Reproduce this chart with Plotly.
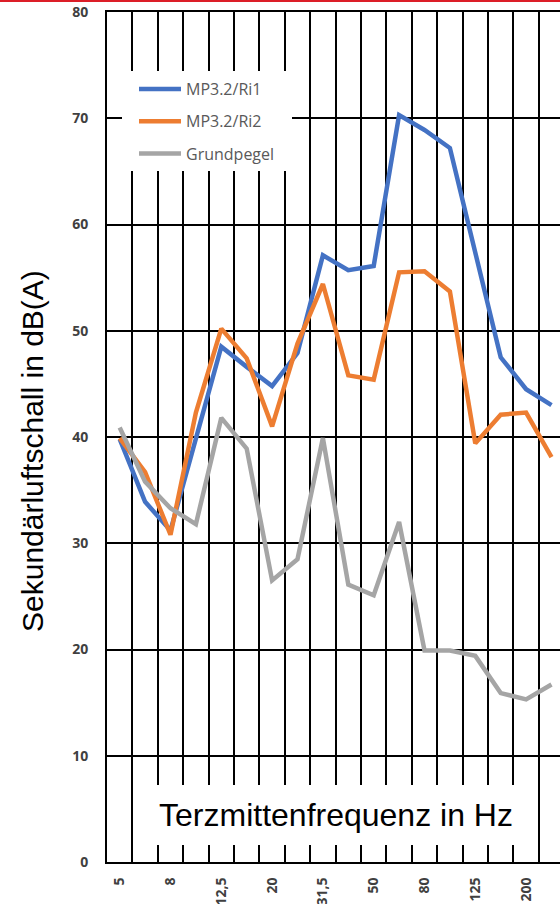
import plotly.graph_objects as go

categories = ["5", "6,3", "8", "10", "12,5", "16", "20", "25", "31,5", "40",
              "50", "63", "80", "100", "125", "160", "200", "250"]
ri1 = [39.8, 33.9, 31.2, 39.9, 48.5, 46.6, 44.8, 47.9, 57.1, 55.7,
       56.1, 70.3, 68.9, 67.2, 57.3, 47.5, 44.5, 43.0]
ri2 = [39.9, 36.7, 30.8, 42.3, 50.2, 47.4, 41.0, 48.8, 54.4, 45.8,
       45.4, 55.5, 55.6, 53.7, 39.4, 42.1, 42.3, 38.1]
grund = [40.9, 35.8, 33.3, 31.8, 41.8, 38.9, 26.5, 28.5, 39.9, 26.1,
         25.1, 32.0, 19.9, 19.9, 19.4, 15.9, 15.3, 16.7]
series_names = ["MP3.2/Ri1", "MP3.2/Ri2", "Grundpegel"]
colors = ["#4472C4", "#ED7D31", "#A5A5A5"]
y_ticks = [0, 10, 20, 30, 40, 50, 60, 70, 80]

xidx = list(range(len(categories)))
label_idx = xidx[::2]
label_txt = [categories[i] for i in label_idx]

fig = go.Figure()
for name, vals, col in zip(series_names, [ri1, ri2, grund], colors):
    fig.add_trace(go.Scatter(x=xidx, y=vals, mode="lines", name=name,
                             legendgroup=name,
                             line=dict(color=col, width=4.5)))

W, H = 560, 904
L, R, T, B = 107, 0, 12, 42
pw = W - L - R
ph = H - T - B
xr = [-0.5, -0.5 + pw / 25.4]

def px2x(p):
    return xr[0] + (p - L) / pw * (xr[1] - xr[0])

def py2y(p):
    return (H - B - p) / ph * 80

fig.update_layout(
    width=W, height=H,
    margin=dict(l=L, r=R, t=T, b=B, pad=0, autoexpand=False),
    plot_bgcolor="white", paper_bgcolor="white",
    showlegend=True,
    legend=dict(x=(134 - L) / pw, y=(H - B - 72) / ph, xanchor="left", yanchor="top",
                bgcolor="rgba(0,0,0,0)", borderwidth=0,
                font=dict(family="Open Sans", size=16, color="#595959"),
                itemwidth=42, tracegroupgap=8.5),
    xaxis=dict(range=xr, tickmode="array", tickvals=label_idx, ticktext=label_txt,
               tickangle=-90, showgrid=False, zeroline=False, automargin=False,
               showline=True, linecolor="black", linewidth=2, mirror=True,
               ticks="outside", ticklen=8, tickcolor="rgba(0,0,0,0)",
               tickfont=dict(family="Open Sans", size=14, color="#404040", weight="bold"),
               minor=dict(tickmode="linear", tick0=-0.5, dtick=1, showgrid=True,
                          gridcolor="black", gridwidth=2, ticks="")),
    yaxis=dict(range=[0, 80], tickmode="array", tickvals=y_ticks, automargin=False,
               showgrid=True, gridcolor="black", gridwidth=2, zeroline=False,
               showline=True, linecolor="black", linewidth=2, mirror=True,
               ticks="outside", ticklen=14, tickcolor="rgba(0,0,0,0)",
               tickfont=dict(family="Open Sans", size=14, color="#404040", weight="bold")),
    shapes=[
        dict(type="rect", xref="x", yref="y", layer="between",
             x0=px2x(122), x1=px2x(292), y0=py2y(171), y1=py2y(71),
             fillcolor="white", line=dict(width=0)),
        dict(type="line", xref="paper", yref="paper",
             x0=-L / pw, x1=1.0, y0=(H - B - 1) / ph, y1=(H - B - 1) / ph,
             line=dict(color="#DC1E28", width=2)),
    ],
    annotations=[
        dict(text="Terzmittenfrequenz in Hz", xref="x", yref="y",
             x=px2x(336), y=py2y(815), xanchor="center", yanchor="middle",
             showarrow=False, bgcolor="white", width=386, height=60, borderpad=0,
             borderwidth=0,
             font=dict(family="Liberation Sans, Arial", size=32, color="black")),
        dict(text="Sekundärluftschall in dB(A)", xref="paper", yref="paper",
             x=(32 - L) / pw, y=(H - B - 451) / ph, xanchor="center", yanchor="middle",
             textangle=-90, showarrow=False,
             font=dict(family="Liberation Sans, Arial", size=30, color="black")),
    ],
)

fig.write_html("out.html", config={"displayModeBar": False},
               post_script="document.body.style.margin='0';document.body.style.overflow='hidden';")
